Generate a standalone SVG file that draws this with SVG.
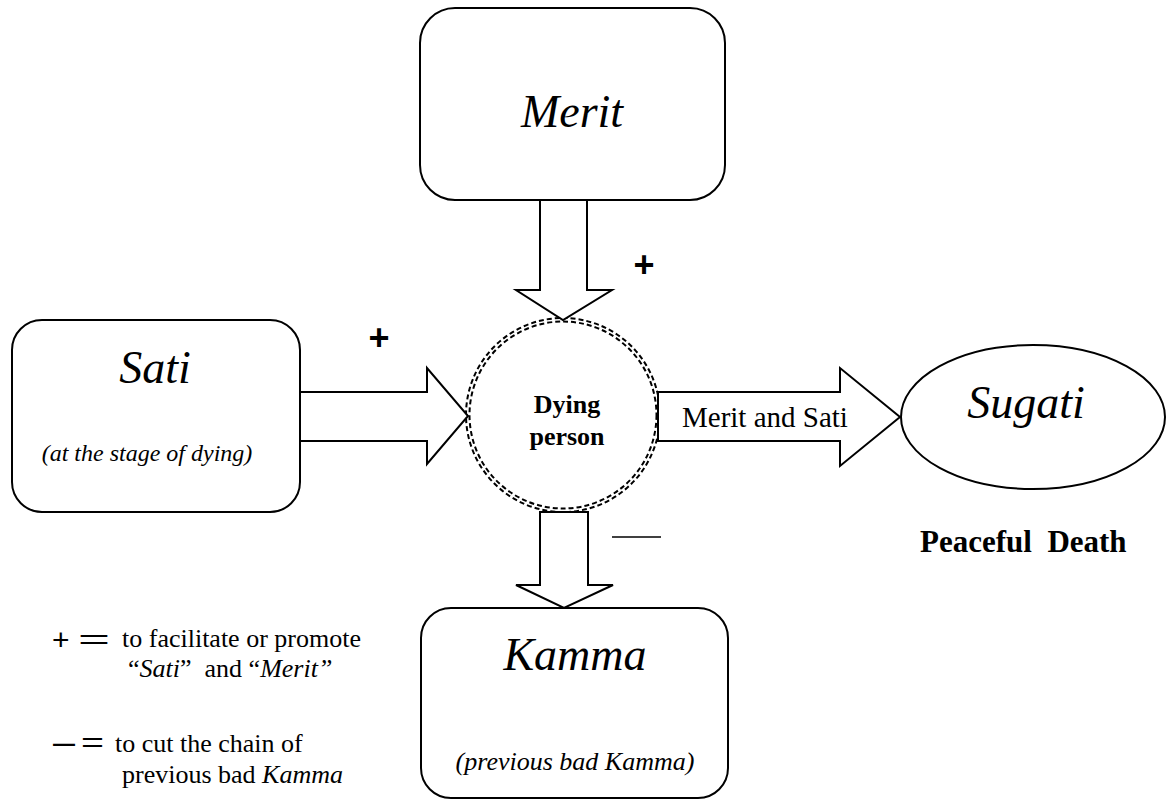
<svg xmlns="http://www.w3.org/2000/svg" width="1173" height="801" viewBox="0 0 1173 801">
<style>
.box{fill:#fff;stroke:#000;stroke-width:2}
.arr{fill:#fff;stroke:#000;stroke-width:2;stroke-linejoin:miter}
.ring{fill:none;stroke:#000;stroke-width:2;stroke-dasharray:5 3}
.ser{font-family:"Liberation Serif","Times New Roman",serif;fill:#000}
.big{font-size:46px;font-style:italic;text-anchor:middle}
.sans{font-family:"Liberation Sans",Arial,sans-serif;fill:#000}
</style>
<rect width="1173" height="801" fill="#fff"/>
<g id="node-circle">
<circle class="ring" cx="563" cy="415" r="97"/>
<circle class="ring" cx="563" cy="415" r="93.5"/>
<text class="ser" x="567" y="413" font-size="26" font-weight="bold" text-anchor="middle">Dying</text>
<text class="ser" x="567" y="445" font-size="26" font-weight="bold" text-anchor="middle">person</text>
</g>
<g id="connectors">
<polygon class="arr" points="540,200 587,200 587,290 612,290 563,320 516,290 540,290"/>
<polygon class="arr" points="300,392 427,392 427,368 468,416 427,464 427,441 300,441"/>
<polygon class="arr" points="658,392 840,392 840,368 900,417 840,466 840,441 658,441"/>
<polygon class="arr" points="540,512 588,512 588,585 613,585 564,608 516,585 540,585"/>
<text class="ser" x="682" y="427" font-size="29">Merit and Sati</text>
<text class="sans" x="644" y="277" font-size="36" font-weight="bold" text-anchor="middle">+</text>
<text class="sans" x="379" y="350" font-size="36" font-weight="bold" text-anchor="middle">+</text>
<line x1="612" y1="537" x2="661" y2="537" stroke="#000" stroke-width="1.5"/>
</g>
<g id="node-merit">
<rect class="box" x="420" y="8" width="305" height="192" rx="35"/>
<text class="ser big" x="572" y="127">Merit</text>
</g>
<g id="node-sati">
<rect class="box" x="12" y="320" width="288" height="192" rx="30"/>
<text class="ser big" x="155" y="383">Sati</text>
<text class="ser" x="147" y="461" font-size="24" font-style="italic" text-anchor="middle">(at the stage of dying)</text>
</g>
<g id="node-kamma">
<rect class="box" x="421" y="608" width="307" height="190" rx="30"/>
<text class="ser big" x="575" y="670">Kamma</text>
<text class="ser" x="575" y="770" font-size="26" font-style="italic" text-anchor="middle">(previous bad Kamma)</text>
</g>
<g id="node-sugati">
<ellipse class="box" cx="1033" cy="417" rx="132" ry="72"/>
<text class="ser big" x="1026" y="418">Sugati</text>
<text class="ser" x="920" y="552" font-size="31" font-weight="bold" style="white-space:pre">Peaceful  Death</text>
</g>
<g id="legend">
<text class="sans" x="52" y="650" font-size="30">+</text>
<text class="sans" x="78" y="649" font-size="28" textLength="32" lengthAdjust="spacingAndGlyphs">=</text>
<text class="ser" x="122" y="647" font-size="26">to facilitate or promote</text>
<text class="ser" x="128" y="677" font-size="26" style="white-space:pre">“<tspan font-style="italic">Sati</tspan>”  and “<tspan font-style="italic">Merit”</tspan></text>
<text class="sans" x="53" y="751" font-size="22" font-weight="bold">—</text>
<text class="sans" x="81" y="752" font-size="28" textLength="23" lengthAdjust="spacingAndGlyphs">=</text>
<text class="ser" x="115" y="752" font-size="26">to cut the chain of</text>
<text class="ser" x="122" y="783" font-size="26">previous bad <tspan font-style="italic">Kamma</tspan></text>
</g>
</svg>
